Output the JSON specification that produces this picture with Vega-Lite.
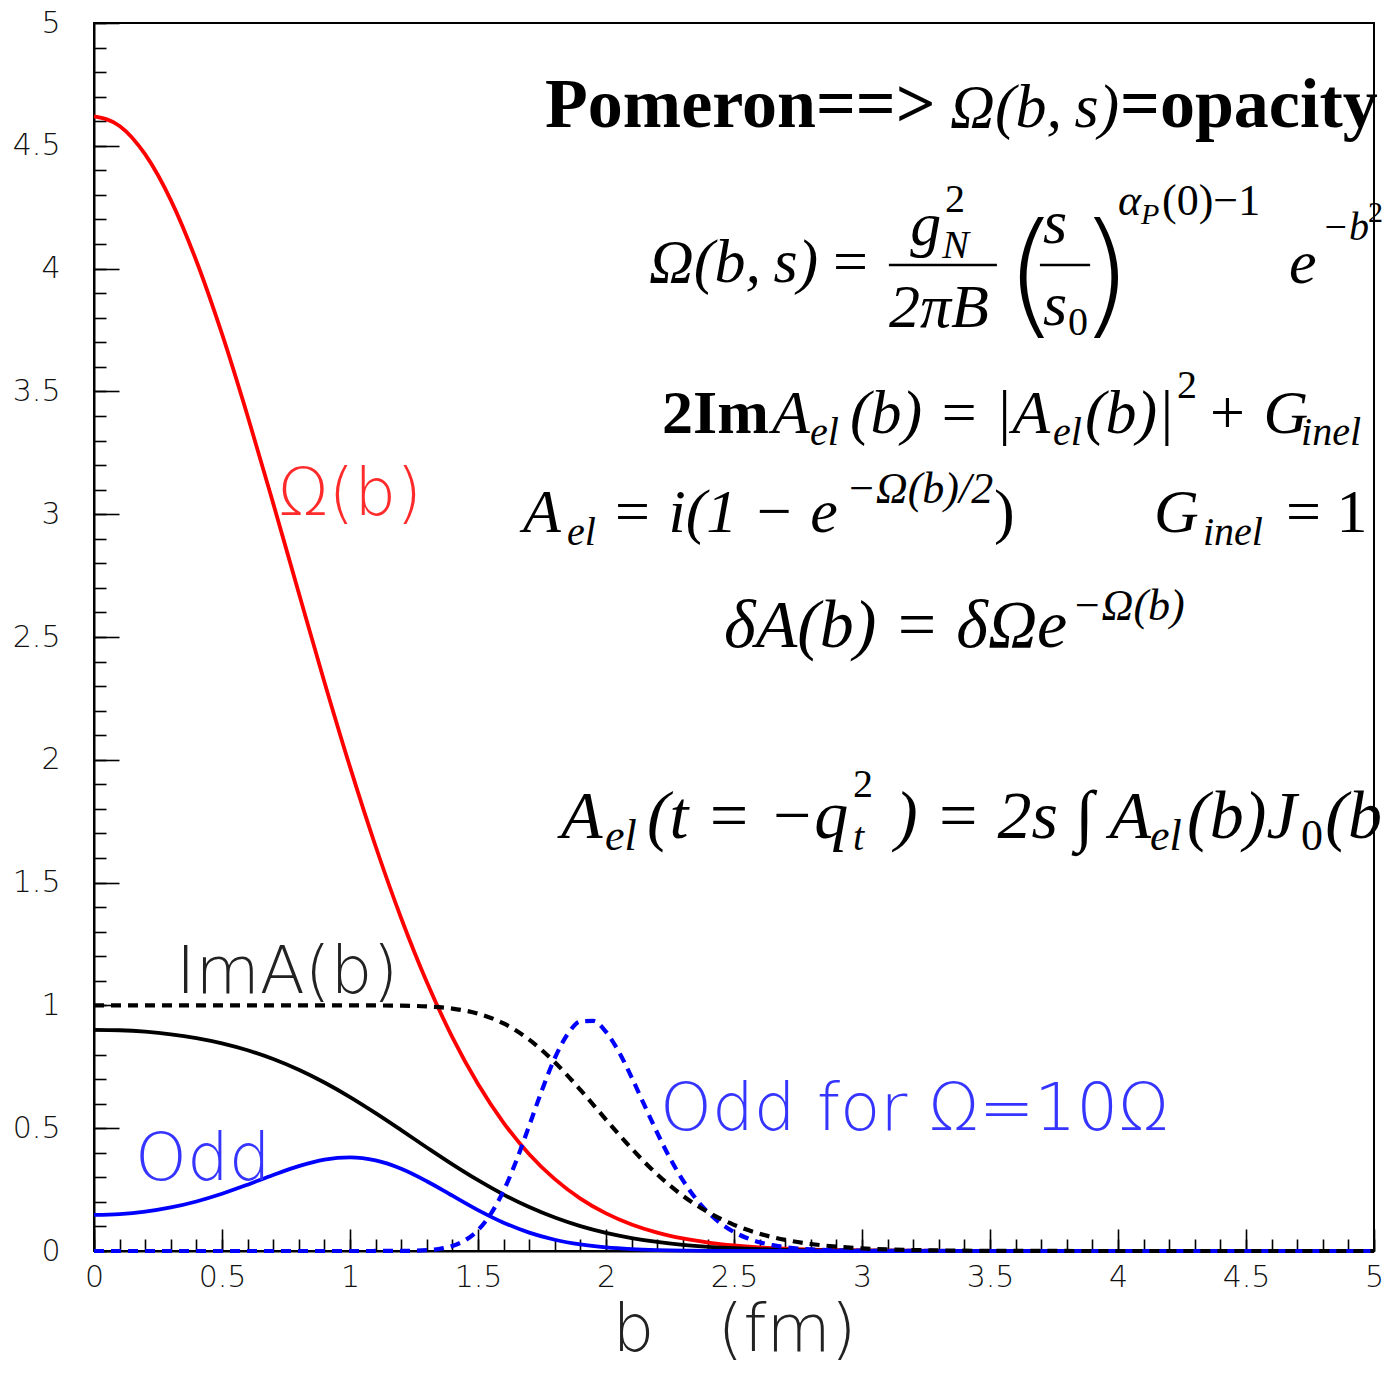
{
  "$schema": "https://vega.github.io/schema/vega-lite/v6.json",
  "width": 1280,
  "height": 1228,
  "autosize": "none",
  "padding": {"left": 94, "top": 23, "right": 10, "bottom": 122},
  "background": "white",
  "config": {"view": {"stroke": "black", "strokeWidth": 2}},
  "datasets": {
    "curves": [
      {"b":0,"v":4.62,"s":"Omega"},{"b":0.1,"v":4.581,"s":"Omega"},{"b":0.2,"v":4.465,"s":"Omega"},{"b":0.3,"v":4.279,"s":"Omega"},{"b":0.4,"v":4.031,"s":"Omega"},{"b":0.5,"v":3.734,"s":"Omega"},{"b":0.6,"v":3.4,"s":"Omega"},{"b":0.7,"v":3.044,"s":"Omega"},{"b":0.8,"v":2.679,"s":"Omega"},{"b":0.9,"v":2.317,"s":"Omega"},{"b":1.0,"v":1.971,"s":"Omega"},{"b":1.1,"v":1.648,"s":"Omega"},{"b":1.2,"v":1.355,"s":"Omega"},{"b":1.3,"v":1.095,"s":"Omega"},{"b":1.4,"v":0.87,"s":"Omega"},{"b":1.5,"v":0.68,"s":"Omega"},{"b":1.6,"v":0.522,"s":"Omega"},{"b":1.7,"v":0.394,"s":"Omega"},{"b":1.8,"v":0.2925,"s":"Omega"},{"b":1.9,"v":0.2134,"s":"Omega"},{"b":2.0,"v":0.1531,"s":"Omega"},{"b":2.1,"v":0.108,"s":"Omega"},{"b":2.2,"v":0.0748,"s":"Omega"},{"b":2.3,"v":0.051,"s":"Omega"},{"b":2.4,"v":0.0342,"s":"Omega"},{"b":2.5,"v":0.0225,"s":"Omega"},{"b":2.6,"v":0.0146,"s":"Omega"},{"b":2.7,"v":0.0093,"s":"Omega"},{"b":2.8,"v":0.0058,"s":"Omega"},{"b":2.9,"v":0.0036,"s":"Omega"},{"b":3.0,"v":0.0022,"s":"Omega"},{"b":3.5,"v":0.0001,"s":"Omega"},{"b":4.0,"v":0,"s":"Omega"},{"b":4.5,"v":0,"s":"Omega"},{"b":5.0,"v":0,"s":"Omega"},
      {"b":0,"v":0.9007,"s":"ImA"},{"b":0.1,"v":0.8988,"s":"ImA"},{"b":0.2,"v":0.8928,"s":"ImA"},{"b":0.3,"v":0.8823,"s":"ImA"},{"b":0.4,"v":0.8667,"s":"ImA"},{"b":0.5,"v":0.8454,"s":"ImA"},{"b":0.6,"v":0.8173,"s":"ImA"},{"b":0.7,"v":0.7817,"s":"ImA"},{"b":0.8,"v":0.738,"s":"ImA"},{"b":0.9,"v":0.686,"s":"ImA"},{"b":1.0,"v":0.6267,"s":"ImA"},{"b":1.1,"v":0.5613,"s":"ImA"},{"b":1.2,"v":0.4921,"s":"ImA"},{"b":1.3,"v":0.4216,"s":"ImA"},{"b":1.4,"v":0.3527,"s":"ImA"},{"b":1.5,"v":0.2882,"s":"ImA"},{"b":1.6,"v":0.2297,"s":"ImA"},{"b":1.7,"v":0.1788,"s":"ImA"},{"b":1.8,"v":0.1361,"s":"ImA"},{"b":1.9,"v":0.1012,"s":"ImA"},{"b":2.0,"v":0.0737,"s":"ImA"},{"b":2.1,"v":0.0526,"s":"ImA"},{"b":2.2,"v":0.0367,"s":"ImA"},{"b":2.3,"v":0.0252,"s":"ImA"},{"b":2.4,"v":0.017,"s":"ImA"},{"b":2.5,"v":0.0112,"s":"ImA"},{"b":2.6,"v":0.0073,"s":"ImA"},{"b":2.7,"v":0.0046,"s":"ImA"},{"b":2.8,"v":0.0029,"s":"ImA"},{"b":2.9,"v":0.0018,"s":"ImA"},{"b":3.0,"v":0.0011,"s":"ImA"},{"b":3.5,"v":0,"s":"ImA"},{"b":4.0,"v":0,"s":"ImA"},{"b":4.5,"v":0,"s":"ImA"},{"b":5.0,"v":0,"s":"ImA"},
      {"b":0,"v":0.1468,"s":"Odd"},{"b":0.1,"v":0.1501,"s":"Odd"},{"b":0.2,"v":0.1602,"s":"Odd"},{"b":0.3,"v":0.1773,"s":"Odd"},{"b":0.4,"v":0.2017,"s":"Odd"},{"b":0.5,"v":0.2331,"s":"Odd"},{"b":0.6,"v":0.2701,"s":"Odd"},{"b":0.7,"v":0.3094,"s":"Odd"},{"b":0.8,"v":0.3457,"s":"Odd"},{"b":0.9,"v":0.3721,"s":"Odd"},{"b":1.0,"v":0.3812,"s":"Odd"},{"b":1.1,"v":0.3688,"s":"Odd"},{"b":1.2,"v":0.3348,"s":"Odd"},{"b":1.3,"v":0.2841,"s":"Odd"},{"b":1.4,"v":0.2252,"s":"Odd"},{"b":1.5,"v":0.1666,"s":"Odd"},{"b":1.6,"v":0.1154,"s":"Odd"},{"b":1.7,"v":0.0749,"s":"Odd"},{"b":1.8,"v":0.0458,"s":"Odd"},{"b":1.9,"v":0.0265,"s":"Odd"},{"b":2.0,"v":0.0145,"s":"Odd"},{"b":2.1,"v":0.0076,"s":"Odd"},{"b":2.2,"v":0.0038,"s":"Odd"},{"b":2.3,"v":0.0018,"s":"Odd"},{"b":2.4,"v":0.0008,"s":"Odd"},{"b":2.6,"v":0.0002,"s":"Odd"},{"b":3.0,"v":0,"s":"Odd"},{"b":4.0,"v":0,"s":"Odd"},{"b":5.0,"v":0,"s":"Odd"},
      {"b":0,"v":0,"s":"Odd10"},{"b":0.5,"v":0,"s":"Odd10"},{"b":1.0,"v":0,"s":"Odd10"},{"b":1.2,"v":0.0004,"s":"Odd10"},{"b":1.3,"v":0.0034,"s":"Odd10"},{"b":1.35,"v":0.0088,"s":"Odd10"},{"b":1.4,"v":0.0206,"s":"Odd10"},{"b":1.45,"v":0.0438,"s":"Odd10"},{"b":1.5,"v":0.0849,"s":"Odd10"},{"b":1.55,"v":0.1511,"s":"Odd10"},{"b":1.6,"v":0.2458,"s":"Odd10"},{"b":1.65,"v":0.3682,"s":"Odd10"},{"b":1.7,"v":0.5101,"s":"Odd10"},{"b":1.75,"v":0.6551,"s":"Odd10"},{"b":1.8,"v":0.7854,"s":"Odd10"},{"b":1.85,"v":0.8827,"s":"Odd10"},{"b":1.9,"v":0.9348,"s":"Odd10"},{"b":1.95,"v":0.937,"s":"Odd10"},{"b":2.0,"v":0.892,"s":"Odd10"},{"b":2.05,"v":0.8115,"s":"Odd10"},{"b":2.1,"v":0.7072,"s":"Odd10"},{"b":2.15,"v":0.5938,"s":"Odd10"},{"b":2.2,"v":0.4815,"s":"Odd10"},{"b":2.25,"v":0.3778,"s":"Odd10"},{"b":2.3,"v":0.2885,"s":"Odd10"},{"b":2.35,"v":0.2145,"s":"Odd10"},{"b":2.4,"v":0.1558,"s":"Odd10"},{"b":2.45,"v":0.1109,"s":"Odd10"},{"b":2.5,"v":0.0773,"s":"Odd10"},{"b":2.55,"v":0.053,"s":"Odd10"},{"b":2.6,"v":0.0357,"s":"Odd10"},{"b":2.65,"v":0.0238,"s":"Odd10"},{"b":2.7,"v":0.0156,"s":"Odd10"},{"b":2.75,"v":0.0101,"s":"Odd10"},{"b":2.8,"v":0.0065,"s":"Odd10"},{"b":2.9,"v":0.0026,"s":"Odd10"},{"b":3.0,"v":0.001,"s":"Odd10"},{"b":3.5,"v":0,"s":"Odd10"},{"b":4.0,"v":0,"s":"Odd10"},{"b":4.5,"v":0,"s":"Odd10"},{"b":5.0,"v":0,"s":"Odd10"},
      {"b":0,"v":1,"s":"ImA10"},{"b":0.5,"v":1,"s":"ImA10"},{"b":0.9,"v":1,"s":"ImA10"},{"b":1.0,"v":0.9999,"s":"ImA10"},{"b":1.1,"v":0.9997,"s":"ImA10"},{"b":1.2,"v":0.9989,"s":"ImA10"},{"b":1.3,"v":0.9958,"s":"ImA10"},{"b":1.4,"v":0.9871,"s":"ImA10"},{"b":1.5,"v":0.9666,"s":"ImA10"},{"b":1.6,"v":0.9265,"s":"ImA10"},{"b":1.7,"v":0.8605,"s":"ImA10"},{"b":1.8,"v":0.7683,"s":"ImA10"},{"b":1.9,"v":0.656,"s":"ImA10"},{"b":2.0,"v":0.5349,"s":"ImA10"},{"b":2.1,"v":0.4173,"s":"ImA10"},{"b":2.2,"v":0.312,"s":"ImA10"},{"b":2.3,"v":0.2251,"s":"ImA10"},{"b":2.4,"v":0.1572,"s":"ImA10"},{"b":2.5,"v":0.1065,"s":"ImA10"},{"b":2.6,"v":0.0704,"s":"ImA10"},{"b":2.7,"v":0.0454,"s":"ImA10"},{"b":2.8,"v":0.0286,"s":"ImA10"},{"b":2.9,"v":0.0177,"s":"ImA10"},{"b":3.0,"v":0.0107,"s":"ImA10"},{"b":3.1,"v":0.0064,"s":"ImA10"},{"b":3.2,"v":0.0038,"s":"ImA10"},{"b":3.4,"v":0.0013,"s":"ImA10"},{"b":3.6,"v":0.0004,"s":"ImA10"},{"b":4.0,"v":0,"s":"ImA10"},{"b":4.5,"v":0,"s":"ImA10"},{"b":5.0,"v":0,"s":"ImA10"}
    ],
    "tex": [
      {"b":1.762,"v":4.577,"t":"Pomeron==>","g":"bold"},
      {"b":3.344,"v":4.577,"t":"Ω(b,\u2009s)","g":"it"},
      {"b":4.008,"v":4.577,"t":"=opacity","g":"bold"},
      {"b":2.168,"v":3.945,"t":"Ω(b,\u2009s)","g":"it"},
      {"b":2.887,"v":3.945,"t":"=","g":"rm"},
      {"b":3.188,"v":4.096,"t":"g","g":"it"},
      {"b":3.324,"v":4.23,"t":"2","g":"rmS"},
      {"b":3.313,"v":4.043,"t":"N","g":"itS"},
      {"b":3.105,"v":3.762,"t":"2πB","g":"it"},
      {"b":3.559,"v":3.791,"t":"(","g":"big"},
      {"b":3.707,"v":4.104,"t":"s","g":"it"},
      {"b":3.707,"v":3.77,"t":"s","g":"it"},
      {"b":3.805,"v":3.73,"t":"0","g":"rmS"},
      {"b":3.848,"v":3.791,"t":")","g":"big"},
      {"b":4.0,"v":4.218,"t":"α","g":"itM"},
      {"b":4.09,"v":4.182,"t":"P","g":"itT"},
      {"b":4.172,"v":4.218,"t":"(0)−1","g":"rmM"},
      {"b":4.668,"v":3.941,"t":"e","g":"it"},
      {"b":4.797,"v":4.116,"t":"−b","g":"itS"},
      {"b":4.977,"v":4.19,"t":"2","g":"rmT"},
      {"b":2.219,"v":3.331,"t":"2Im","g":"boldS"},
      {"b":2.648,"v":3.331,"t":"A","g":"it"},
      {"b":2.797,"v":3.282,"t":"el","g":"itS"},
      {"b":2.953,"v":3.331,"t":"(b) = |A","g":"it"},
      {"b":3.746,"v":3.282,"t":"el","g":"itS"},
      {"b":3.871,"v":3.331,"t":"(b)|","g":"it"},
      {"b":4.23,"v":3.473,"t":"2","g":"rmS"},
      {"b":4.344,"v":3.331,"t":"+ G","g":"it"},
      {"b":4.715,"v":3.282,"t":"inel","g":"itS"},
      {"b":1.676,"v":2.928,"t":"A","g":"it"},
      {"b":1.848,"v":2.875,"t":"el","g":"itS"},
      {"b":2.02,"v":2.928,"t":"= i(1 − e","g":"it"},
      {"b":2.938,"v":3.046,"t":"−Ω(b)/2","g":"itM"},
      {"b":3.516,"v":2.928,"t":")","g":"rm"},
      {"b":4.141,"v":2.928,"t":"G","g":"it"},
      {"b":4.332,"v":2.875,"t":"inel","g":"itS"},
      {"b":4.656,"v":2.928,"t":"= 1","g":"rm"},
      {"b":2.461,"v":2.459,"t":"δA(b) = δΩe","g":"itL"},
      {"b":3.82,"v":2.569,"t":"−Ω(b)","g":"itM"},
      {"b":1.824,"v":1.682,"t":"A","g":"itL"},
      {"b":1.996,"v":1.633,"t":"el","g":"itM"},
      {"b":2.16,"v":1.682,"t":"(t = −q","g":"itL"},
      {"b":2.965,"v":1.849,"t":"2","g":"rmS"},
      {"b":2.965,"v":1.633,"t":"t","g":"itS"},
      {"b":3.129,"v":1.682,"t":") = 2s ∫ A","g":"itL"},
      {"b":4.125,"v":1.633,"t":"el","g":"itM"},
      {"b":4.27,"v":1.682,"t":"(b)J","g":"itL"},
      {"b":4.715,"v":1.633,"t":"0","g":"rmM"},
      {"b":4.81,"v":1.682,"t":"(b","g":"itL"}
    ],
    "bars": [
      {"b":3.105,"b2":3.527,"v":4.015},
      {"b":3.695,"b2":3.891,"v":4.015}
    ],
    "labels": [
      {"b":0.719,"v":2.997,"t":"Ω(b)","c":"red"},
      {"b":0.32,"v":1.05,"t":"ImA(b)","c":"black"},
      {"b":0.16,"v":0.289,"t":"Odd","c":"blue"},
      {"b":2.211,"v":0.493,"t":"Odd for Ω=10Ω","c":"blue"}
    ]
  },
  "resolve": {"scale": {"x": "shared", "y": "shared"}, "axis": {"x": "independent", "y": "independent"}},
  "layer": [
    {
      "data": {"name": "curves"},
      "transform": [{"filter": "datum.s === 'Omega' || datum.s === 'ImA' || datum.s === 'Odd'"}],
      "mark": {"type": "line", "strokeWidth": 3.8, "interpolate": "monotone"},
      "encoding": {
        "x": {"field": "b", "type": "quantitative", "scale": {"domain": [0, 5], "nice": false, "zero": false},
          "axis": {"orient": "bottom", "values": [0,0.5,1,1.5,2,2.5,3,3.5,4,4.5,5], "format": "~g", "grid": false,
            "tickSize": -22, "tickWidth": 1.6, "tickColor": "#000", "domainColor": "#000", "domainWidth": 2,
            "labelFont": "DejaVu Sans", "labelFontWeight": 200, "labelFontSize": 30, "labelColor": "#111",
            "labelPadding": 33, "labelFlush": false, "labelOverlap": false, "labelBound": false,
            "title": "b \u00a0\u00a0(fm)", "titleFont": "DejaVu Sans", "titleFontWeight": 200, "titleFontSize": 66, "titleColor": "#222", "titlePadding": 6}},
        "y": {"field": "v", "type": "quantitative", "scale": {"domain": [0, 5], "nice": false, "zero": false},
          "axis": {"orient": "left", "values": [0,0.5,1,1.5,2,2.5,3,3.5,4,4.5,5], "format": "~g", "grid": false,
            "tickSize": -25, "tickWidth": 1.6, "tickColor": "#000", "domainColor": "#000", "domainWidth": 2,
            "labelFont": "DejaVu Sans", "labelFontWeight": 200, "labelFontSize": 30, "labelColor": "#111",
            "labelPadding": 59, "labelFlush": false, "labelOverlap": false, "labelBound": false, "title": null}},
        "color": {"field": "s", "type": "nominal", "legend": null,
          "scale": {"domain": ["Omega","ImA","Odd","Odd10","ImA10"], "range": ["#ff0000","#000000","#0000ff","#0000ff","#000000"]}}
      }
    },
    {
      "data": {"name": "curves"},
      "transform": [{"filter": "datum.s === 'Odd10' || datum.s === 'ImA10'"}],
      "mark": {"type": "line", "strokeWidth": 4.2, "interpolate": "monotone", "strokeDash": [10, 7]},
      "encoding": {
        "x": {"field": "b", "type": "quantitative", "scale": {"domain": [0, 5], "nice": false, "zero": false}, "axis": null},
        "y": {"field": "v", "type": "quantitative", "scale": {"domain": [0, 5], "nice": false, "zero": false}, "axis": null},
        "color": {"field": "s", "type": "nominal", "legend": null,
          "scale": {"domain": ["Omega","ImA","Odd","Odd10","ImA10"], "range": ["#ff0000","#000000","#0000ff","#0000ff","#000000"]}}
      }
    },
    {
      "data": {"name": "bars"},
      "mark": {"type": "rule", "strokeWidth": 2.5, "color": "#000"},
      "encoding": {
        "x": {"field": "b", "type": "quantitative", "scale": {"domain": [0, 5], "nice": false, "zero": false},
          "axis": {"orient": "bottom", "values": [0,0.1,0.2,0.3,0.4,0.5,0.6,0.7,0.8,0.9,1,1.1,1.2,1.3,1.4,1.5,1.6,1.7,1.8,1.9,2,2.1,2.2,2.3,2.4,2.5,2.6,2.7,2.8,2.9,3,3.1,3.2,3.3,3.4,3.5,3.6,3.7,3.8,3.9,4,4.1,4.2,4.3,4.4,4.5,4.6,4.7,4.8,4.9,5],
            "tickSize": -12, "tickWidth": 1.6, "tickColor": "#000", "labels": false, "domain": false, "grid": false, "title": null}},
        "x2": {"field": "b2"},
        "y": {"field": "v", "type": "quantitative", "scale": {"domain": [0, 5], "nice": false, "zero": false},
          "axis": {"orient": "left", "values": [0,0.1,0.2,0.3,0.4,0.5,0.6,0.7,0.8,0.9,1,1.1,1.2,1.3,1.4,1.5,1.6,1.7,1.8,1.9,2,2.1,2.2,2.3,2.4,2.5,2.6,2.7,2.8,2.9,3,3.1,3.2,3.3,3.4,3.5,3.6,3.7,3.8,3.9,4,4.1,4.2,4.3,4.4,4.5,4.6,4.7,4.8,4.9,5],
            "tickSize": -12, "tickWidth": 1.6, "tickColor": "#000", "labels": false, "domain": false, "grid": false, "title": null}}
      }
    },
    {
      "data": {"name": "tex"},
      "transform": [{"filter": "datum.g === 'bold'"}],
      "mark": {"type": "text", "font": "Liberation Serif", "fontWeight": "bold", "fontSize": 70, "align": "left", "baseline": "alphabetic", "color": "#000"},
      "encoding": {"x": {"field": "b", "type": "quantitative", "axis": null}, "y": {"field": "v", "type": "quantitative", "axis": null}, "text": {"field": "t"}}
    },
    {
      "data": {"name": "tex"},
      "transform": [{"filter": "datum.g === 'boldS'"}],
      "mark": {"type": "text", "font": "Liberation Serif", "fontWeight": "bold", "fontSize": 62, "align": "left", "baseline": "alphabetic", "color": "#000"},
      "encoding": {"x": {"field": "b", "type": "quantitative", "axis": null}, "y": {"field": "v", "type": "quantitative", "axis": null}, "text": {"field": "t"}}
    },
    {
      "data": {"name": "tex"},
      "transform": [{"filter": "datum.g === 'it'"}],
      "mark": {"type": "text", "font": "Liberation Serif", "fontStyle": "italic", "fontSize": 62, "align": "left", "baseline": "alphabetic", "color": "#000"},
      "encoding": {"x": {"field": "b", "type": "quantitative", "axis": null}, "y": {"field": "v", "type": "quantitative", "axis": null}, "text": {"field": "t"}}
    },
    {
      "data": {"name": "tex"},
      "transform": [{"filter": "datum.g === 'itL'"}],
      "mark": {"type": "text", "font": "Liberation Serif", "fontStyle": "italic", "fontSize": 68, "align": "left", "baseline": "alphabetic", "color": "#000"},
      "encoding": {"x": {"field": "b", "type": "quantitative", "axis": null}, "y": {"field": "v", "type": "quantitative", "axis": null}, "text": {"field": "t"}}
    },
    {
      "data": {"name": "tex"},
      "transform": [{"filter": "datum.g === 'rm'"}],
      "mark": {"type": "text", "font": "Liberation Serif", "fontSize": 62, "align": "left", "baseline": "alphabetic", "color": "#000"},
      "encoding": {"x": {"field": "b", "type": "quantitative", "axis": null}, "y": {"field": "v", "type": "quantitative", "axis": null}, "text": {"field": "t"}}
    },
    {
      "data": {"name": "tex"},
      "transform": [{"filter": "datum.g === 'itS'"}],
      "mark": {"type": "text", "font": "Liberation Serif", "fontStyle": "italic", "fontSize": 40, "align": "left", "baseline": "alphabetic", "color": "#000"},
      "encoding": {"x": {"field": "b", "type": "quantitative", "axis": null}, "y": {"field": "v", "type": "quantitative", "axis": null}, "text": {"field": "t"}}
    },
    {
      "data": {"name": "tex"},
      "transform": [{"filter": "datum.g === 'itM'"}],
      "mark": {"type": "text", "font": "Liberation Serif", "fontStyle": "italic", "fontSize": 44, "align": "left", "baseline": "alphabetic", "color": "#000"},
      "encoding": {"x": {"field": "b", "type": "quantitative", "axis": null}, "y": {"field": "v", "type": "quantitative", "axis": null}, "text": {"field": "t"}}
    },
    {
      "data": {"name": "tex"},
      "transform": [{"filter": "datum.g === 'rmS'"}],
      "mark": {"type": "text", "font": "Liberation Serif", "fontSize": 40, "align": "left", "baseline": "alphabetic", "color": "#000"},
      "encoding": {"x": {"field": "b", "type": "quantitative", "axis": null}, "y": {"field": "v", "type": "quantitative", "axis": null}, "text": {"field": "t"}}
    },
    {
      "data": {"name": "tex"},
      "transform": [{"filter": "datum.g === 'rmM'"}],
      "mark": {"type": "text", "font": "Liberation Serif", "fontSize": 44, "align": "left", "baseline": "alphabetic", "color": "#000"},
      "encoding": {"x": {"field": "b", "type": "quantitative", "axis": null}, "y": {"field": "v", "type": "quantitative", "axis": null}, "text": {"field": "t"}}
    },
    {
      "data": {"name": "tex"},
      "transform": [{"filter": "datum.g === 'itT'"}],
      "mark": {"type": "text", "font": "Liberation Serif", "fontStyle": "italic", "fontSize": 30, "align": "left", "baseline": "alphabetic", "color": "#000"},
      "encoding": {"x": {"field": "b", "type": "quantitative", "axis": null}, "y": {"field": "v", "type": "quantitative", "axis": null}, "text": {"field": "t"}}
    },
    {
      "data": {"name": "tex"},
      "transform": [{"filter": "datum.g === 'rmT'"}],
      "mark": {"type": "text", "font": "Liberation Serif", "fontSize": 30, "align": "left", "baseline": "alphabetic", "color": "#000"},
      "encoding": {"x": {"field": "b", "type": "quantitative", "axis": null}, "y": {"field": "v", "type": "quantitative", "axis": null}, "text": {"field": "t"}}
    },
    {
      "data": {"name": "tex"},
      "transform": [{"filter": "datum.g === 'big'"}],
      "mark": {"type": "text", "font": "DejaVu Sans", "fontWeight": 200, "fontSize": 136, "align": "left", "baseline": "alphabetic", "color": "#000"},
      "encoding": {"x": {"field": "b", "type": "quantitative", "axis": null}, "y": {"field": "v", "type": "quantitative", "axis": null}, "text": {"field": "t"}}
    },
    {
      "data": {"name": "labels"},
      "transform": [{"filter": "datum.c === 'red'"}],
      "mark": {"type": "text", "font": "DejaVu Sans", "fontWeight": 200, "fontSize": 66, "align": "left", "baseline": "alphabetic", "color": "#ff2a2a"},
      "encoding": {"x": {"field": "b", "type": "quantitative", "axis": null}, "y": {"field": "v", "type": "quantitative", "axis": null}, "text": {"field": "t"}}
    },
    {
      "data": {"name": "labels"},
      "transform": [{"filter": "datum.c === 'black'"}],
      "mark": {"type": "text", "font": "DejaVu Sans", "fontWeight": 200, "fontSize": 66, "align": "left", "baseline": "alphabetic", "color": "#222222"},
      "encoding": {"x": {"field": "b", "type": "quantitative", "axis": null}, "y": {"field": "v", "type": "quantitative", "axis": null}, "text": {"field": "t"}}
    },
    {
      "data": {"name": "labels"},
      "transform": [{"filter": "datum.c === 'blue'"}],
      "mark": {"type": "text", "font": "DejaVu Sans", "fontWeight": 200, "fontSize": 66, "align": "left", "baseline": "alphabetic", "color": "#3535ff"},
      "encoding": {"x": {"field": "b", "type": "quantitative", "axis": null}, "y": {"field": "v", "type": "quantitative", "axis": null}, "text": {"field": "t"}}
    }
  ]
}
